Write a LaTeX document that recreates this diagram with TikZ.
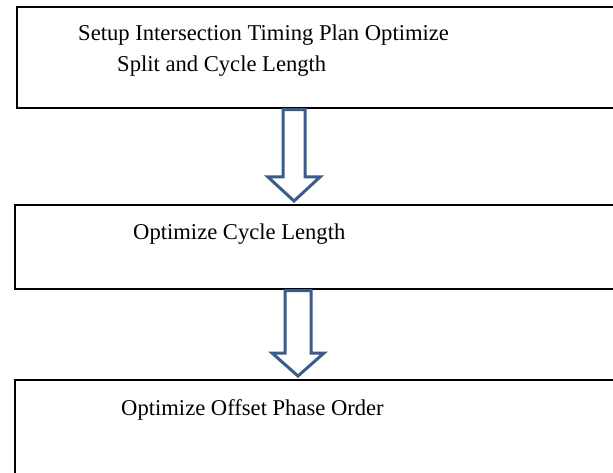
\documentclass[tikz,border=0pt]{standalone}
\usepackage{fontspec}
\setmainfont{Liberation Serif}
\usetikzlibrary{calc,positioning}

\definecolor{arrowblue}{RGB}{56,93,138}

\begin{document}
\begin{tikzpicture}[
    x=1pt, y=-1pt,
    stepbox/.style={
        draw,
        line width=1.6pt,
        rectangle,
        anchor=north west,
        minimum width=640pt,
        inner sep=0pt
    },
    boxtext/.style={
        anchor=base west,
        align=left,
        inner sep=0pt,
        font=\fontsize{22.6}{31}\selectfont
    },
    blockarrow/.style={
        draw=arrowblue,
        line width=3pt,
        fill=white,
        line join=miter
    }
]

\useasboundingbox (0,0) rectangle (613,473);
\clip (0,0) rectangle (613,473);
\fill[white] (0,0) rectangle (613,473);

% ---- Boxes ----
\node[stepbox, minimum height=101pt] (setup) at (16,6) {};
\node[stepbox, minimum height=84pt] (cycle) at (14,204) {};
\node[stepbox, minimum height=130pt] (offset) at (14,379) {};

% ---- Texts (base = last line) ----
\node[boxtext] (setuptext) at (78,72)
    {Setup Intersection Timing Plan Optimize\\\hspace*{39pt}Split and Cycle Length};
\node[boxtext] (cycletext) at (133,240) {Optimize Cycle Length};
\node[boxtext] (offsettext) at (121,415) {Optimize Offset Phase Order};

% ---- Arrows ----
\coordinate (axone) at (294,0);
\coordinate (axtwo) at (298,0);

\draw[blockarrow] let \p1=(setup.south -| axone), \p2=(cycle.north -| axone) in
    (\x1-11pt,\y1-1pt) -- (\x1-11pt,\y2+27pt) -- (\x1-26pt,\y2+27pt) -- (\x2,\y2+3pt)
    -- (\x1+26pt,\y2+27pt) -- (\x1+11pt,\y2+27pt) -- (\x1+11pt,\y1-1pt) -- cycle;

\draw[blockarrow] let \p1=(cycle.south -| axtwo), \p2=(offset.north -| axtwo) in
    (\x1-13pt,\y1-1pt) -- (\x1-13pt,\y2+26pt) -- (\x1-26pt,\y2+26pt) -- (\x2,\y2+3pt)
    -- (\x1+26pt,\y2+26pt) -- (\x1+13pt,\y2+26pt) -- (\x1+13pt,\y1-1pt) -- cycle;

\end{tikzpicture}
\end{document}
